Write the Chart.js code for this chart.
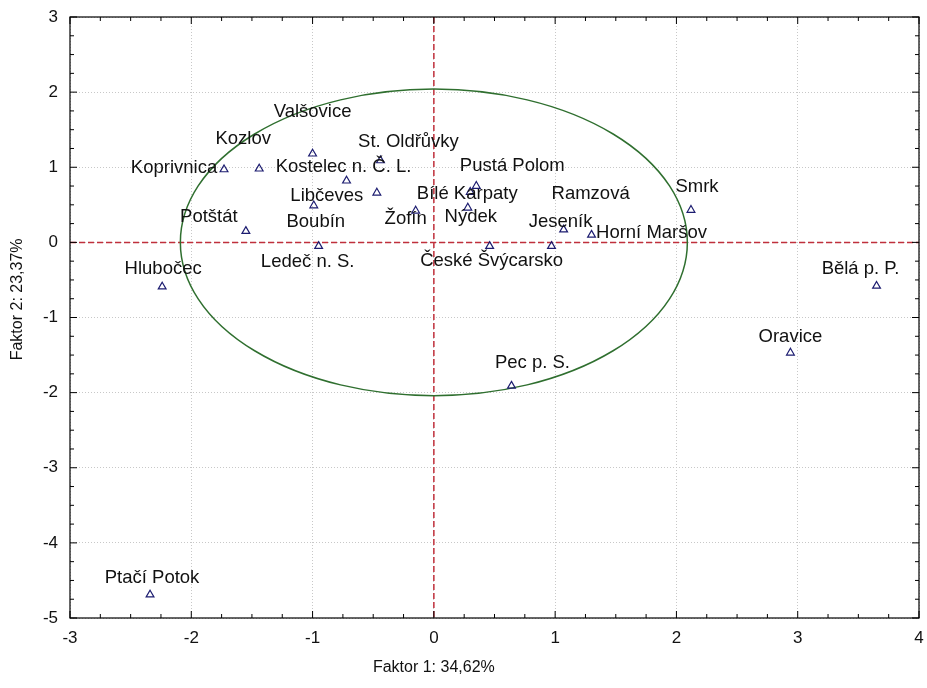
<!DOCTYPE html>
<html>
<head>
<meta charset="utf-8">
<script src="https://cdn.jsdelivr.net/npm/chart.js@4"></script>
<style>
  html, body { margin: 0; padding: 0; background: #fff; }
  #wrap { width: 927px; height: 688px; position: relative; }
</style>
</head>
<body>
<div id="wrap"><canvas id="c" width="927" height="688"></canvas></div>
<script>
// ---- data ----
const sites = ["Koprivnica", "Kozlov", "Valšovice", "Kostelec n. Č. L.", "Libčeves", "Boubín",
  "Potštát", "Ledeč n. S.", "St. Oldřůvky", "Žofín", "Pustá Polom", "Bílé Karpaty", "Nýdek",
  "České Švýcarsko", "Jeseník", "Ramzová", "Horní Maršov", "Smrk", "Bělá p. P.", "Oravice",
  "Pec p. S.", "Hlubočec", "Ptačí Potok"];
const factor1 = [-1.73, -1.44, -1.00, -0.72, -0.47, -0.99, -1.55, -0.95, -0.44, -0.15, 0.35, 0.30, 0.28,
  0.46, 0.97, 1.07, 1.30, 2.12, 3.65, 2.94, 0.64, -2.24, -2.34];
const factor2 = [0.97, 0.98, 1.18, 0.82, 0.66, 0.49, 0.15, -0.05, 1.09, 0.42, 0.75, 0.67, 0.46,
  -0.05, -0.05, 0.17, 0.10, 0.43, -0.58, -1.47, -1.91, -0.59, -4.69];
const xTickValues = [-3, -2, -1, 0, 1, 2, 3, 4];
const yTickValues = [-5, -4, -3, -2, -1, 0, 1, 2, 3];
const ellipseCenter = [0, 0];
const ellipseRadii = [2.09, 2.04];
const xTitle = "Faktor 1: 34,62%";
const yTitle = "Faktor 2: 23,37%";

// ---- label placement (pixel offsets of label centre from its marker) ----
const labelOffsets = [[-50,-2],[-16,-30],[0,-42],[-3,-14],[-50,3],[2,16],[-37,-14],[-11,16],[28,-19],
  [-10,8],[36,-20],[-3,2],[3,9],[2,15],[9,-24],[27,-36],[60,-2],[6,-23],[-16,-17],[0,-16],[21,-23],[1,-18],[2,-17]];

const FONT = "'Liberation Sans', Arial, sans-serif";

const points = factor1.map((x, i) => ({ x: x, y: factor2[i] }));

const overlay = {
  id: 'overlay',
  beforeDatasetsDraw(chart) {
    const { ctx, chartArea: a, scales: { x, y } } = chart;
    ctx.save();
    // reference lines at zero
    ctx.strokeStyle = '#c0303c';
    ctx.lineWidth = 1.5;
    ctx.setLineDash([6, 3]);
    const x0 = x.getPixelForValue(0), y0 = y.getPixelForValue(0);
    ctx.beginPath();
    ctx.moveTo(x0, a.top); ctx.lineTo(x0, a.bottom);
    ctx.moveTo(a.left, y0); ctx.lineTo(a.right, y0);
    ctx.stroke();
    ctx.setLineDash([]);
    // ellipse
    const cx = x.getPixelForValue(ellipseCenter[0]);
    const cy = y.getPixelForValue(ellipseCenter[1]);
    const rx = Math.abs(x.getPixelForValue(ellipseCenter[0] + ellipseRadii[0]) - cx);
    const ry = Math.abs(y.getPixelForValue(ellipseCenter[1] + ellipseRadii[1]) - cy);
    ctx.strokeStyle = '#2f6f2f';
    ctx.lineWidth = 1.5;
    ctx.beginPath();
    ctx.ellipse(cx, cy, rx, ry, 0, 0, Math.PI * 2);
    ctx.stroke();
    ctx.restore();
  },
  afterDatasetsDraw(chart) {
    const { ctx, chartArea: a, scales: { x, y } } = chart;
    ctx.save();
    // point labels
    ctx.font = '18.5px ' + FONT;
    ctx.fillStyle = '#111';
    ctx.textAlign = 'center';
    ctx.textBaseline = 'middle';
    const meta = chart.getDatasetMeta(0);
    meta.data.forEach((el, i) => {
      const o = labelOffsets[i] || [0, -17];
      ctx.fillText(sites[i], el.x + o[0], el.y + o[1]);
    });
    // frame
    ctx.strokeStyle = '#000';
    ctx.lineWidth = 1.2;
    ctx.strokeRect(a.left, a.top, a.right - a.left, a.bottom - a.top);
    // tick marks (major + minor) inward on all sides
    ctx.lineWidth = 1;
    ctx.beginPath();
    for (let v = -3; v <= 4.0001; v += 0.25) {
      const px = x.getPixelForValue(v);
      const major = Math.abs(v - Math.round(v)) < 1e-6;
      const len = major ? 7 : 4;
      ctx.moveTo(px, a.bottom); ctx.lineTo(px, a.bottom - len);
      ctx.moveTo(px, a.top); ctx.lineTo(px, a.top + len);
    }
    for (let v = -5; v <= 3.0001; v += 0.25) {
      const py = y.getPixelForValue(v);
      const major = Math.abs(v - Math.round(v)) < 1e-6;
      const len = major ? 7 : 4;
      ctx.moveTo(a.left, py); ctx.lineTo(a.left + len, py);
      ctx.moveTo(a.right, py); ctx.lineTo(a.right - len, py);
    }
    ctx.stroke();
    // axis titles
    ctx.font = '16px ' + FONT;
    ctx.fillStyle = '#111';
    ctx.textAlign = 'center';
    ctx.textBaseline = 'middle';
    ctx.fillText(xTitle, x.getPixelForValue(0), a.bottom + 50);
    ctx.save();
    ctx.translate(a.left - 52, y.getPixelForValue(0) + 57);
    ctx.rotate(-Math.PI / 2);
    ctx.fillText(yTitle, 0, 0);
    ctx.restore();
    ctx.restore();
  }
};

const whiteBg = {
  id: 'whiteBg',
  beforeDraw(chart) {
    const ctx = chart.ctx;
    ctx.save();
    ctx.fillStyle = '#fff';
    ctx.fillRect(0, 0, chart.width, chart.height);
    ctx.restore();
  }
};

new Chart(document.getElementById('c'), {
  type: 'scatter',
  data: {
    datasets: [{
      data: points,
      pointStyle: 'triangle',
      pointRadius: 4.5,
      pointHoverRadius: 4.5,
      borderColor: '#1c1c70',
      backgroundColor: 'rgba(0,0,0,0)',
      borderWidth: 1.2
    }]
  },
  options: {
    responsive: false,
    animation: false,
    events: [],
    layout: { padding: { top: 17, right: 8, left: 0, bottom: 0 } },
    plugins: { legend: { display: false }, tooltip: { enabled: false } },
    scales: {
      x: {
        type: 'linear',
        min: -3, max: 4,
        afterBuildTicks: (s) => { s.ticks = xTickValues.map(v => ({ value: v })); },
        afterFit: (s) => { s.height = 70; s.paddingLeft = 0; s.paddingRight = 0; },
        ticks: { color: '#111', font: { family: FONT, size: 17 }, padding: 10, maxRotation: 0 },
        grid: { color: '#c8c8c8', lineWidth: 1, drawTicks: false },
        border: { display: false, dash: [1, 2] }
      },
      y: {
        type: 'linear',
        min: -5, max: 3,
        afterBuildTicks: (s) => { s.ticks = yTickValues.map(v => ({ value: v })); },
        afterFit: (s) => { s.width = 70; s.paddingTop = 0; s.paddingBottom = 0; },
        ticks: { color: '#111', font: { family: FONT, size: 17 }, padding: 12 },
        grid: { color: '#c8c8c8', lineWidth: 1, drawTicks: false },
        border: { display: false, dash: [1, 2] }
      }
    }
  },
  plugins: [whiteBg, overlay]
});
</script>
</body>
</html>
